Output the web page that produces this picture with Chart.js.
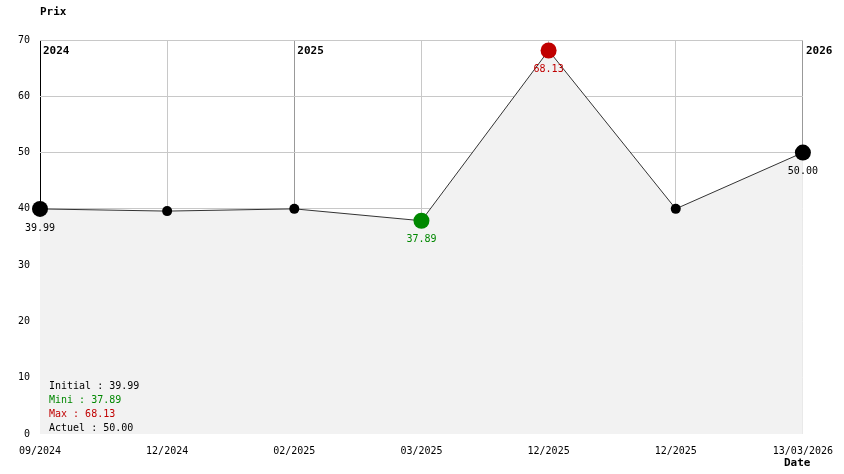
<!DOCTYPE html>
<html>
<head>
<meta charset="utf-8">
<script src="https://cdn.jsdelivr.net/npm/chart.js@4"></script>
<style>
  body { margin: 0; background: #fff; }
  canvas { display: block; }
</style>
</head>
<body>
<canvas id="priceChart" width="844" height="474"></canvas>
<script>
// Data
const dateLabels = ["09/2024", "12/2024", "02/2025", "03/2025", "12/2025", "12/2025", "13/03/2026"];
const prices = [39.99, 39.6, 40.0, 37.89, 68.13, 40.0, 50.0];
const yearLabels = ["2024", "2025", "2026"];
const yearIndex = [0, 2, 6];

const FONT = "'DejaVu Sans Mono', monospace";
const GREEN = "#008800";
const RED = "#c00000";

const minIdx = prices.indexOf(Math.min(...prices));
const maxIdx = prices.indexOf(Math.max(...prices));
const lastIdx = prices.length - 1;

// marker style per point: first/last/min/max are big, others small
function pointRadius(i) {
  return (i === 0 || i === lastIdx || i === minIdx || i === maxIdx) ? 8 : 5;
}
function pointColor(i) {
  if (i === minIdx) return GREEN;
  if (i === maxIdx) return RED;
  return "#000";
}

// extra texts: axis titles, year marks, value labels, summary
const annotations = {
  id: "annotations",
  afterDatasetsDraw(chart) {
    const ctx = chart.ctx;
    const x = chart.scales.x;
    const area = chart.chartArea;
    const pts = chart.getDatasetMeta(0).data;

    ctx.save();
    ctx.textBaseline = "middle";

    ctx.font = "bold 11px " + FONT;
    ctx.fillStyle = "#000";
    ctx.textAlign = "left";
    ctx.fillText("Prix", area.left, 12);
    ctx.fillText("Date", 784, 463);

    yearLabels.forEach((label, k) => {
      ctx.fillText(label, x.getPixelForValue(yearIndex[k]) + 3, 51);
    });

    ctx.font = "10px " + FONT;
    ctx.textAlign = "center";
    [0, minIdx, maxIdx, lastIdx].forEach(i => {
      ctx.fillStyle = pointColor(i);
      ctx.fillText(prices[i].toFixed(2), pts[i].x, pts[i].y + 19);
    });

    const summary = [
      ["Initial : " + prices[0].toFixed(2), "#000"],
      ["Mini : " + prices[minIdx].toFixed(2), GREEN],
      ["Max : " + prices[maxIdx].toFixed(2), RED],
      ["Actuel : " + prices[lastIdx].toFixed(2), "#000"]
    ];
    ctx.textAlign = "left";
    summary.forEach((row, k) => {
      ctx.fillStyle = row[1];
      ctx.fillText(row[0], area.left + 9, 386 + k * 14);
    });
    ctx.restore();
  }
};

new Chart(document.getElementById("priceChart"), {
  type: "line",
  data: {
    labels: dateLabels,
    datasets: [{
      data: prices,
      borderColor: "#333",
      borderWidth: 1,
      backgroundColor: "#f2f2f2",
      fill: "origin",
      tension: 0,
      pointRadius: prices.map((v, i) => pointRadius(i)),
      pointBackgroundColor: prices.map((v, i) => pointColor(i)),
      pointBorderWidth: 0
    }]
  },
  options: {
    responsive: false,
    animation: false,
    layout: { padding: { left: 0, right: 40, top: 40, bottom: 0 } },
    plugins: { legend: { display: false }, tooltip: { enabled: false } },
    scales: {
      x: {
        offset: false,
        border: { display: false },
        grid: {
          drawTicks: false,
          color: ctx => ctx.index === 0 ? "#000" : (yearIndex.includes(ctx.index) ? "#999" : "#c8c8c8")
        },
        ticks: {
          padding: 11,
          maxRotation: 0,
          autoSkip: false,
          color: "#000",
          font: { family: FONT, size: 10 }
        },
        afterFit: s => { s.height = 40; }
      },
      y: {
        min: 0,
        max: 70,
        border: { display: false },
        grid: {
          drawTicks: false,
          color: ctx => ctx.tick && ctx.tick.value === 0 ? "rgba(0,0,0,0)" : "#c8c8c8"
        },
        ticks: {
          stepSize: 10,
          padding: 10,
          color: "#000",
          font: { family: FONT, size: 10 }
        },
        afterFit: s => { s.width = 40; }
      }
    }
  },
  plugins: [annotations]
});
</script>
</body>
</html>
